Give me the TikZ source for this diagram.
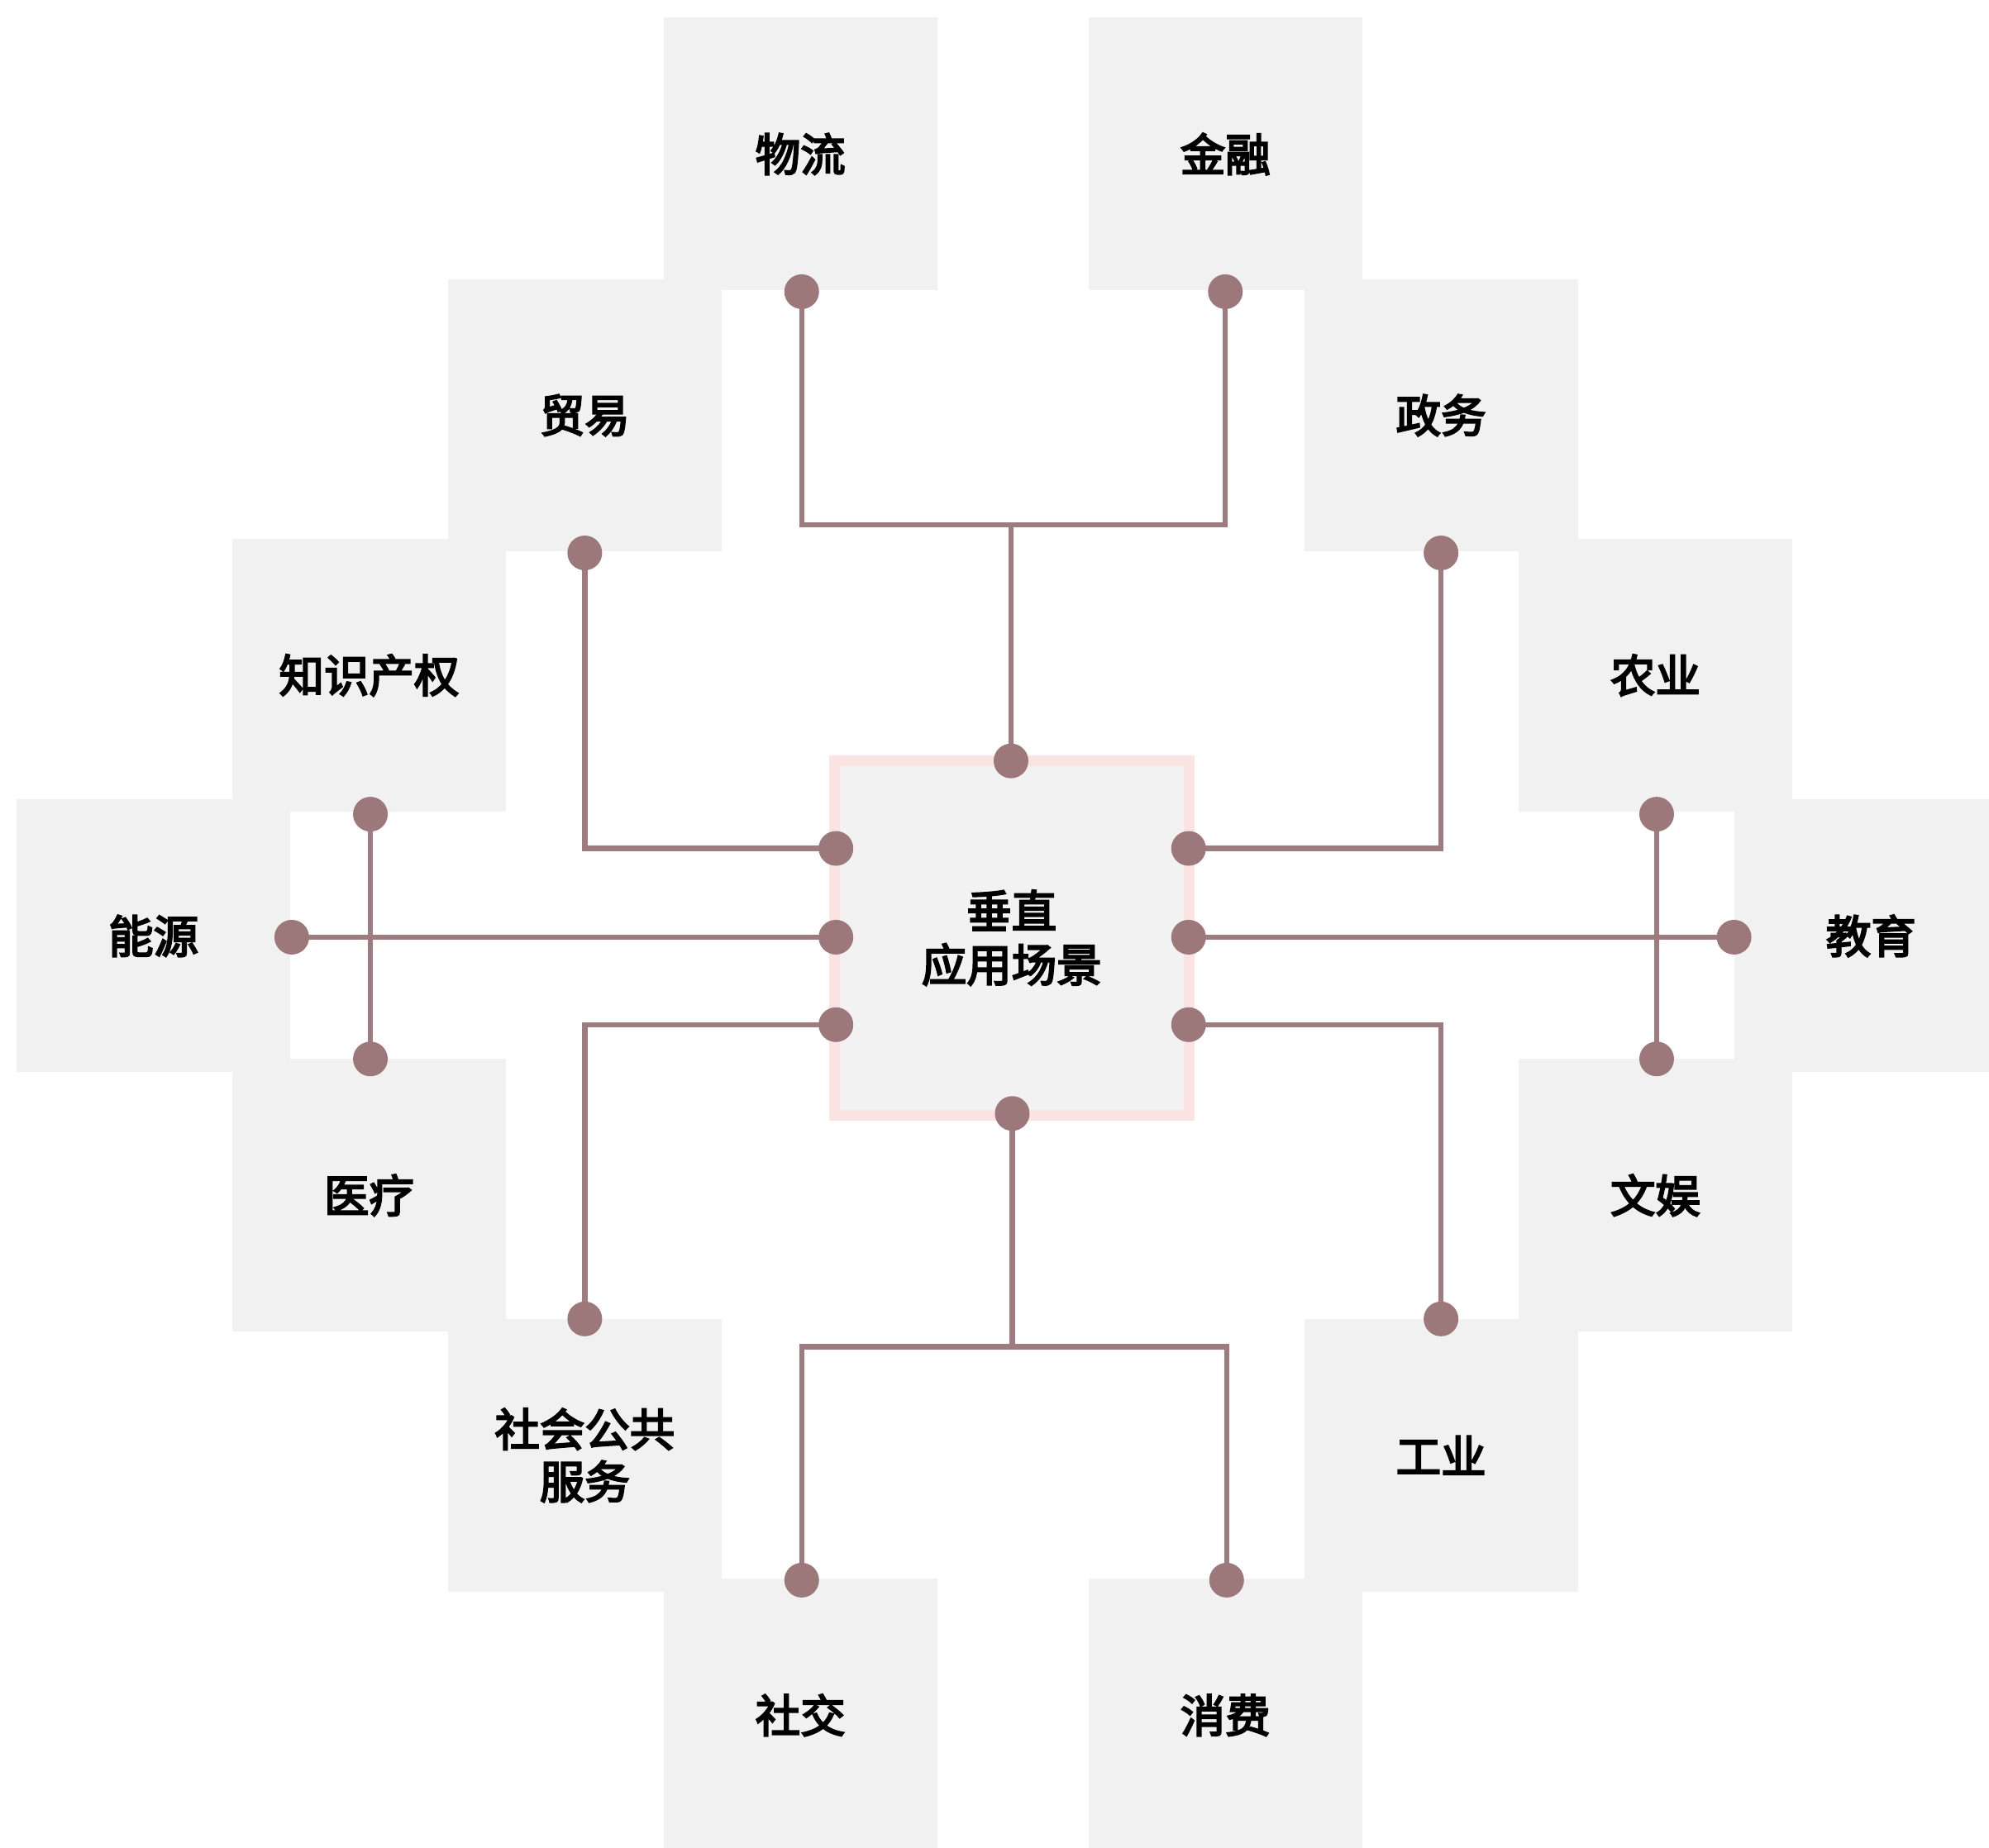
\documentclass[tikz,border=0pt]{standalone}
\usepackage{fontspec}
\newfontfamily\cjk[FakeBold=4]{Noto Sans CJK SC}
\definecolor{tilegray}{HTML}{F1F1F1}
\definecolor{linec}{HTML}{9E7B7E}
\definecolor{dotc}{HTML}{9C787B}
\definecolor{pinkb}{HTML}{FBE3E3}
\definecolor{centerfill}{HTML}{F2F2F2}
\pgfdeclarelayer{bg}
\pgfdeclarelayer{mid}
\pgfsetlayers{bg,mid,main}
\begin{document}
\begin{tikzpicture}[x={(0.015344cm,0cm)},y={(0cm,-0.015344cm)},
  tile/.style={fill=tilegray, minimum width=3.314cm, minimum height=3.30cm, inner sep=0pt,
    font=\cjk\fontsize{15.5}{18}\selectfont, align=center, text=black},
  dotn/.style={circle, fill=dotc, minimum size=0.42cm, inner sep=0pt},
  link/.style={draw=linec, line width=1.8pt}]
\useasboundingbox (0,0) rectangle (1568,1457);
\clip (0,0) rectangle (1568,1457);
\begin{pgfonlayer}{bg}
\fill[white] (0,0) rectangle (1568,1457);
\node[tile] (wl) at (631,121.5) {物流};
\node[tile] (jr) at (966,121.5) {金融};
\node[tile] (my) at (461,327.5) {贸易};
\node[tile] (zw) at (1136,327.5) {政务};
\node[tile] (zs) at (291,532.5) {知识产权};
\node[tile] (nyy) at (1305,532.5) {农业};
\node[tile] (ny) at (121,738) {能源};
\node[tile] (jy) at (1475,738) {教育};
\node[tile] (yl) at (291,942.5) {医疗};
\node[tile] (wy) at (1305,942.5) {文娱};
\node[tile] (sh) at (461,1147.5) {社会公共\\服务};
\node[tile] (gy) at (1136,1147.5) {工业};
\node[tile] (sj) at (631,1352.5) {社交};
\node[tile] (xf) at (966,1352.5) {消费};
\node[draw=pinkb, fill=centerfill, line width=0.130cm, minimum size=4.289cm, inner sep=0pt,
  font=\cjk\fontsize{15.5}{18.5}\selectfont, align=center] (ctr) at (797.5,739.5) {垂直\\应用场景};
\end{pgfonlayer}
% dots
\node[dotn] (dwl) at (632,230) {};
\node[dotn] (djr) at (966,230) {};
\node[dotn] (dct) at (797,600) {};
\node[dotn] (dmy) at (461,436) {};
\node[dotn] (dcl1) at (659,669) {};
\node[dotn] (dzw) at (1136,436) {};
\node[dotn] (dcr1) at (937,669) {};
\node[dotn] (dzs) at (292,642) {};
\node[dotn] (dyl) at (292,835) {};
\node[dotn] (dny) at (230,739) {};
\node[dotn] (dcl2) at (659,739) {};
\node[dotn] (dnyy) at (1306,642) {};
\node[dotn] (dwy) at (1306,835) {};
\node[dotn] (djy) at (1367,739) {};
\node[dotn] (dcr2) at (937,739) {};
\node[dotn] (dsh) at (461,1040) {};
\node[dotn] (dcl3) at (659,808) {};
\node[dotn] (dgy) at (1136,1040) {};
\node[dotn] (dcr3) at (937,808) {};
\node[dotn] (dcb) at (798,878) {};
\node[dotn] (dsj) at (632,1246) {};
\node[dotn] (dxf) at (967,1246) {};
\coordinate (jtop) at (797,414);
\coordinate (jbot) at (798,1062);
\begin{pgfonlayer}{mid}
\draw[link] (dwl.center) |- (jtop) -| (djr.center);
\draw[link] (jtop) -- (dct.center);
\draw[link] (dmy.center) |- (dcl1.center);
\draw[link] (dzw.center) |- (dcr1.center);
\draw[link] (dzs.center) -- (dyl.center);
\draw[link] (dny.center) -- (dcl2.center);
\draw[link] (dnyy.center) -- (dwy.center);
\draw[link] (djy.center) -- (dcr2.center);
\draw[link] (dsh.center) |- (dcl3.center);
\draw[link] (dgy.center) |- (dcr3.center);
\draw[link] (dcb.center) -- (jbot);
\draw[link] (dsj.center) |- (jbot) -| (dxf.center);
\end{pgfonlayer}
\end{tikzpicture}
\end{document}
